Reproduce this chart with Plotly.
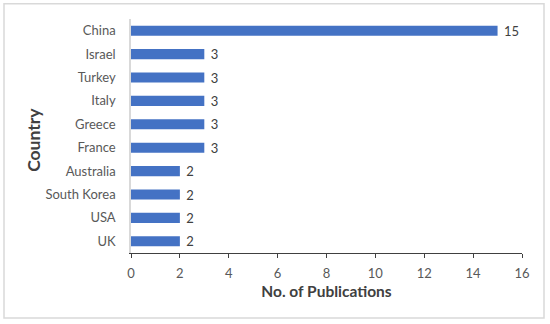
import plotly.graph_objects as go

countries = ["UK", "USA", "South Korea", "Australia", "France", "Greece", "Italy", "Turkey", "Israel", "China"]
publications = [2, 2, 2, 2, 3, 3, 3, 3, 3, 15]
x_ticks = [0, 2, 4, 6, 8, 10, 12, 14, 16]

FONT = "Lato, 'Open Sans', sans-serif"

fig = go.Figure(go.Bar(
    x=publications, y=countries, orientation="h",
    marker=dict(color="#4472C4", line=dict(width=0)),
    width=0.43,
    texttemplate="\u00a0%{x}", textposition="outside", constraintext="none",
    textfont=dict(family=FONT, size=13, color="#404040"),
    cliponaxis=False,
))

L, R, T, B = 131, 28, 19.3, 71
pw, ph = 550 - L - R, 324 - T - B

fig.update_layout(
    width=550, height=324,
    margin=dict(l=L, r=R, t=T, b=B, autoexpand=False),
    paper_bgcolor="white", plot_bgcolor="white",
    showlegend=False,
    font=dict(family=FONT, color="#595959", size=13),
    xaxis=dict(
        range=[0, 16], tickvals=x_ticks, showgrid=False, zeroline=False,
        showline=True, linecolor="#404040", linewidth=1,
        ticks="outside", ticklen=4, tickcolor="#404040",
        tickfont=dict(size=13, color="#595959"), ticklabelstandoff=4,
        title=dict(text="<b>No. of Publications</b>", font=dict(size=15.5, color="#404040"), standoff=6),
    ),
    yaxis=dict(
        showgrid=False, zeroline=False, showline=True, linecolor="#D9D9D9", linewidth=1.5,
        ticks="", tickfont=dict(size=13, color="#595959"), ticklabelstandoff=11,
    ),
    annotations=[dict(
        text="<b>Country</b>", textangle=-90, showarrow=False,
        xref="paper", yref="paper",
        x=(34 - L) / pw, y=(324 - B - 140) / ph,
        xanchor="center", yanchor="middle",
        font=dict(family=FONT, size=17.5, color="#404040"),
    )],
    shapes=[dict(
        type="rect", xref="paper", yref="paper",
        x0=(4 - L) / pw, x1=(544 - L) / pw,
        y0=(324 - B - 318) / ph, y1=(324 - B - 4) / ph,
        line=dict(color="#D9D9D9", width=1.5), fillcolor="rgba(0,0,0,0)", layer="below",
    )],
)

fig.write_html("out.html", config={"displayModeBar": False})
with open("out.html", "r", encoding="utf-8") as f:
    html = f.read()
html = html.replace("<head>", "<head><style>html,body{margin:0;padding:0;overflow:hidden;}</style>", 1)
with open("out.html", "w", encoding="utf-8") as f:
    f.write(html)
